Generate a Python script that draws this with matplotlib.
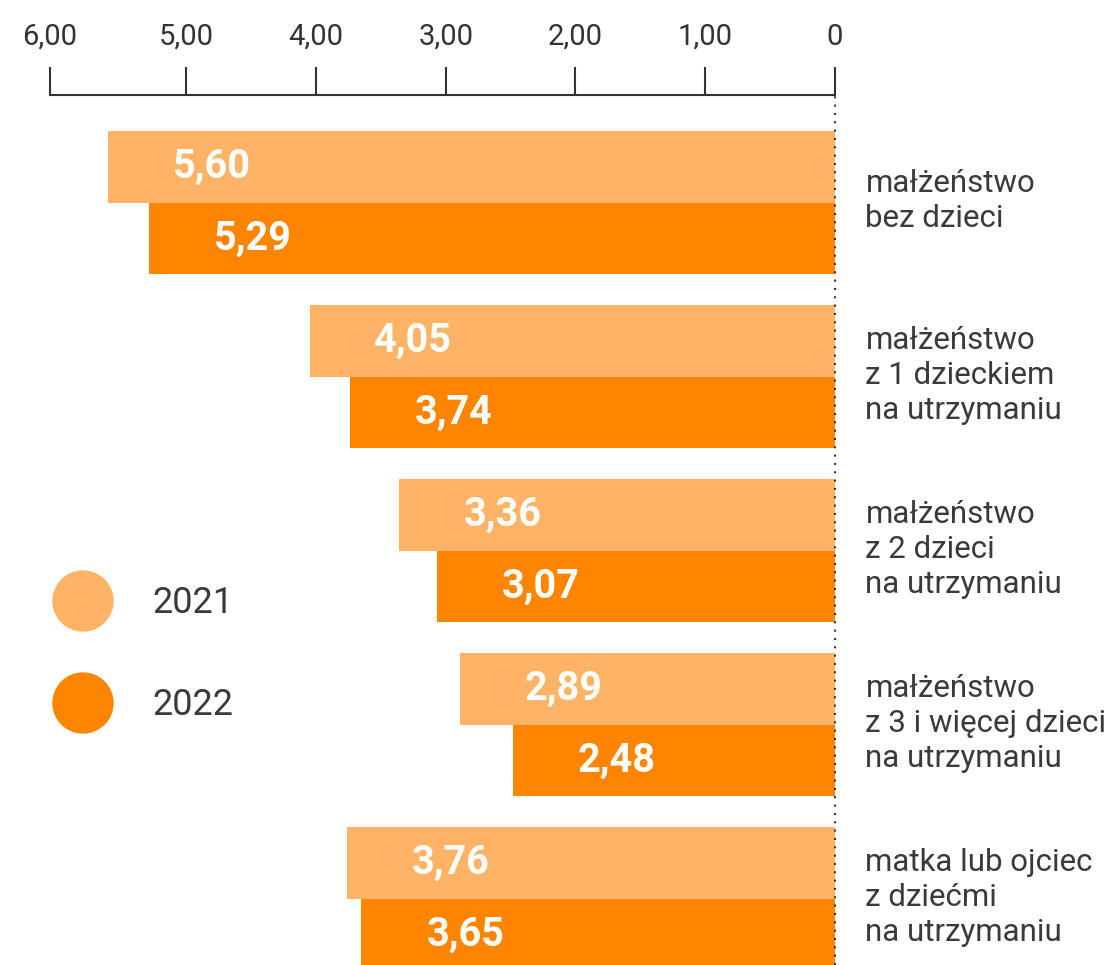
import matplotlib.pyplot as plt
from matplotlib.patches import Ellipse

categories = [
    "małżeństwo\nbez dzieci",
    "małżeństwo\nz 1 dzieckiem\nna utrzymaniu",
    "małżeństwo\nz 2 dzieci\nna utrzymaniu",
    "małżeństwo\nz 3 i więcej dzieci\nna utrzymaniu",
    "matka lub ojciec\nz dziećmi\nna utrzymaniu",
]
values_2021 = [5.60, 4.05, 3.36, 2.89, 3.76]
values_2022 = [5.29, 3.74, 3.07, 2.48, 3.65]
years = ["2021", "2022"]
tick_values = [6.05, 5, 4, 3, 2, 1, 0]
tick_labels = ["6,00", "5,00", "4,00", "3,00", "2,00", "1,00", "0"]

c21 = "#FFB366"
c22 = "#FF8400"
grey = "#333333"

plt.rcParams["font.family"] = ["Roboto", "DejaVu Sans"]

W, H = 1105, 965
fig = plt.figure(figsize=(W / 100, H / 100), dpi=100)
ax = fig.add_axes([50 / W, 0, 785 / W, 1 - 95 / H])

# groups are 174 px apart, bars ~71.5 px tall
bh = 71.5 / 174
ypos = list(range(len(categories)))
ax.barh([y - bh / 2 for y in ypos], values_2021, height=bh, color=c21, zorder=2)
ax.barh([y + bh / 2 for y in ypos], values_2022, height=bh, color=c22, zorder=2)

for y, v in zip(ypos, values_2021):
    ax.text(v - 0.5, y - bh / 2, f"{v:.2f}".replace(".", ","), ha="left", va="center",
            color="white", fontsize=28.5, fontweight="bold", zorder=3)
for y, v in zip(ypos, values_2022):
    ax.text(v - 0.5, y + bh / 2, f"{v:.2f}".replace(".", ","), ha="left", va="center",
            color="white", fontsize=28.5, fontweight="bold", zorder=3)

for y, lab in zip(ypos, categories):
    ax.text(-0.235, y - 0.01, lab, ha="left", va="center", color="#3a3a3a",
            fontsize=22.5, fontweight="normal", linespacing=1.25, clip_on=False)

ax.set_xlim(6.05, 0)
ax.set_ylim((965 - 203) / 174, (95 - 203) / 174)

ax.axvline(0, color=grey, lw=1.5, ls=(0, (1, 3)), zorder=4, clip_on=False)

for s in ["left", "right", "bottom"]:
    ax.spines[s].set_visible(False)
ax.spines["top"].set_color(grey)
ax.spines["top"].set_linewidth(1.5)
ax.xaxis.tick_top()
ax.set_xticks(tick_values)
ax.set_xticklabels(tick_labels)
ax.tick_params(axis="x", direction="out", length=20, width=1.5, color=grey,
               labelsize=21, labelcolor=grey, pad=12)
ax.set_yticks([])

# legend
for yy, col, lab in [(601, c21, years[0]), (703, c22, years[1])]:
    fig.add_artist(Ellipse((83 / W, 1 - yy / H), 60 / W, 60 / H,
                           transform=fig.transFigure, color=col))
    fig.text(152 / W, 1 - (yy + 2) / H, lab, ha="left", va="center",
             color="#3a3a3a", fontsize=26, fontweight="normal")

fig.savefig("out.png", dpi=100)
